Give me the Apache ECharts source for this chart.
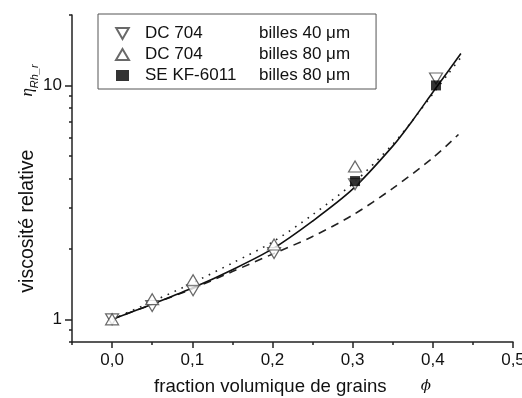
<!DOCTYPE html>
<html><head><meta charset="utf-8">
<script src="https://cdn.jsdelivr.net/npm/echarts@6/dist/echarts.min.js"></script>
<style>html,body{margin:0;padding:0;background:#fff}#c{width:522px;height:398px}</style>
</head><body><div id="c"></div>
<script>
// ---- data ----
const phiSolid  = [0, 0.05, 0.1, 0.15, 0.2, 0.25, 0.3, 0.35, 0.375, 0.4, 0.42, 0.435];
const etaSolid  = [1.0, 1.16, 1.36, 1.63, 2.0, 2.63, 3.6, 5.5, 7.1, 9.35, 11.6, 13.7];
const phiDotted = [0, 0.05, 0.1, 0.15, 0.2, 0.25, 0.3, 0.35, 0.375, 0.4, 0.42, 0.438];
const etaDotted = [1.0, 1.19, 1.43, 1.74, 2.14, 2.8, 3.8, 5.6, 7.1, 9.2, 11.3, 13.6];
const phiDashed = [0, 0.05, 0.1, 0.15, 0.2, 0.25, 0.3, 0.35, 0.4, 0.432];
const etaDashed = [1.0, 1.16, 1.35, 1.6, 1.9, 2.26, 2.79, 3.63, 4.9, 6.17];

const phiDC40 = [0, 0.05, 0.101, 0.202, 0.303, 0.404];
const etaDC40 = [1.0, 1.14, 1.33, 1.92, 3.78, 10.7];
const phiDC80 = [0, 0.05, 0.101, 0.202, 0.303];
const etaDC80 = [1.0, 1.22, 1.47, 2.09, 4.5];
const phiKF80 = [0.303, 0.404];
const etaKF80 = [3.9, 10.0];

const legendFluids = ['DC 704', 'DC 704', 'SE KF-6011'];
const legendBeads  = ['billes 40 μm', 'billes 80 μm', 'billes 80 μm'];
const seriesNames  = ['DC704_40', 'DC704_80', 'KF6011_80'];

const xMajorTicks = [0, 0.1, 0.2, 0.3, 0.4, 0.5];
const xMinorTicks = [-0.05, 0.05, 0.15, 0.25, 0.35, 0.45];
const yMajorTicks = [1, 10];
const yMinorTicks = [0.8, 0.9, 2, 3, 4, 5, 6, 7, 8, 9, 20];

const zip = (a, b) => a.map((v, i) => [v, b[i]]);
const FF = '"Liberation Sans", Arial, sans-serif';
const AX = '#222';

const chart = echarts.init(document.getElementById('c'), null, {renderer: 'canvas'});
const downTri = 'path://M0,0 L12,0 L6,10.5 Z';

const option = {
  animation: false,
  backgroundColor: '#fff',
  grid: {left: 72, right: 9, top: 15, bottom: 56, outerBoundsMode: 'none', containLabel: false},
  legend: {
    orient: 'vertical', left: 98, top: 14,
    padding: [11, 26, 5, 17], itemGap: 4, itemWidth: 13, itemHeight: 11,
    borderColor: '#555', borderWidth: 1,
    data: seriesNames,
    selectedMode: false,
    formatter: function (name) {
      const i = seriesNames.indexOf(name);
      return '{a|' + legendFluids[i] + '}{b|' + legendBeads[i] + '}';
    },
    textStyle: {
      fontFamily: FF, fontSize: 17, color: '#111',
      rich: {
        a: {width: 114, fontFamily: FF, fontSize: 17, color: '#111', padding: [0, 0, 0, 11]},
        b: {fontFamily: FF, fontSize: 17, color: '#111'}
      }
    }
  },
  xAxis: [{
    type: 'value', min: -0.05, max: 0.5, position: 'bottom',
    axisLine: {show: true, onZero: false, lineStyle: {color: AX, width: 1.5}},
    axisTick: {show: true, length: 6, customValues: xMajorTicks, lineStyle: {color: AX, width: 1.5}},
    axisLabel: {
      customValues: xMajorTicks, fontFamily: FF, fontSize: 17, color: '#111', margin: 10,
      formatter: v => v.toFixed(1).replace('.', ',')
    },
    splitLine: {show: false},
    name: '{t|fraction volumique de grains}{p|ϕ}',
    nameLocation: 'middle', nameGap: 35, nameMoveOverlap: false,
    nameTextStyle: {
      rich: {
        t: {fontFamily: FF, fontSize: 18.6, color: '#111'},
        p: {fontFamily: '"DejaVu Serif", serif', fontStyle: 'italic', fontSize: 15, color: '#111', padding: [0, 0, 0, 34]}
      }
    }
  }, {
    type: 'value', min: -0.05, max: 0.5, position: 'bottom', offset: 0,
    axisLine: {show: false, onZero: false},
    axisTick: {show: true, length: 3, customValues: xMinorTicks, lineStyle: {color: AX, width: 1.5}},
    axisLabel: {show: false}, splitLine: {show: false}
  }],
  yAxis: [{
    type: 'log', logBase: 10, min: 0.8, max: 20, position: 'left',
    axisLine: {show: true, onZero: false, lineStyle: {color: AX, width: 1.5}},
    axisTick: {show: true, length: 7, customValues: yMajorTicks, lineStyle: {color: AX, width: 1.5}},
    axisLabel: {customValues: yMajorTicks, fontFamily: FF, fontSize: 17, color: '#111', margin: 10},
    splitLine: {show: false},
    name: '{t|viscosité relative}{e|η}{s|Rh_r}',
    nameLocation: 'middle', nameGap: 32, nameRotate: 90, nameMoveOverlap: false,
    nameTextStyle: {
      rich: {
        t: {fontFamily: FF, fontSize: 19.5, color: '#111', lineHeight: 24},
        e: {fontFamily: '"Liberation Serif", serif', fontStyle: 'italic', fontSize: 17, color: '#111', padding: [0, 0, 0, 53], lineHeight: 24},
        s: {fontFamily: FF, fontStyle: 'italic', fontSize: 11, color: '#111', verticalAlign: 'bottom', lineHeight: 24}
      }
    }
  }, {
    type: 'log', logBase: 10, min: 0.8, max: 20, position: 'left', offset: 0,
    axisLine: {show: false, onZero: false},
    axisTick: {show: true, length: 3, customValues: yMinorTicks, lineStyle: {color: AX, width: 1.5}},
    axisLabel: {show: false}, splitLine: {show: false}
  }],
  series: [
    {type: 'line', data: zip(phiDotted, etaDotted), showSymbol: false, smooth: 0.3, z: 2,
     lineStyle: {color: '#222', width: 1.6, type: [1.6, 6]}},
    {type: 'line', data: zip(phiDashed, etaDashed), showSymbol: false, smooth: 0.3, z: 2,
     lineStyle: {color: '#222', width: 1.6, type: [8, 6]}},
    {type: 'line', data: zip(phiSolid, etaSolid), showSymbol: false, smooth: 0.3, z: 2,
     lineStyle: {color: '#111', width: 1.6}},
    {name: seriesNames[0], type: 'scatter', data: zip(phiDC40, etaDC40), z: 4,
     symbol: downTri, symbolSize: [13, 11],
     itemStyle: {color: '#fff', borderColor: '#444', borderWidth: 1.2}},
    {name: seriesNames[1], type: 'scatter', data: zip(phiDC80, etaDC80), z: 4,
     symbol: 'triangle', symbolSize: [13, 11],
     itemStyle: {color: '#fff', borderColor: '#444', borderWidth: 1.2}},
    {name: seriesNames[2], type: 'scatter', data: zip(phiKF80, etaKF80), z: 5,
     symbol: 'rect', symbolSize: [10, 10],
     itemStyle: {color: '#000', borderColor: '#000', borderWidth: 0}}
  ]
};
chart.setOption(option);
</script>
</body></html>
